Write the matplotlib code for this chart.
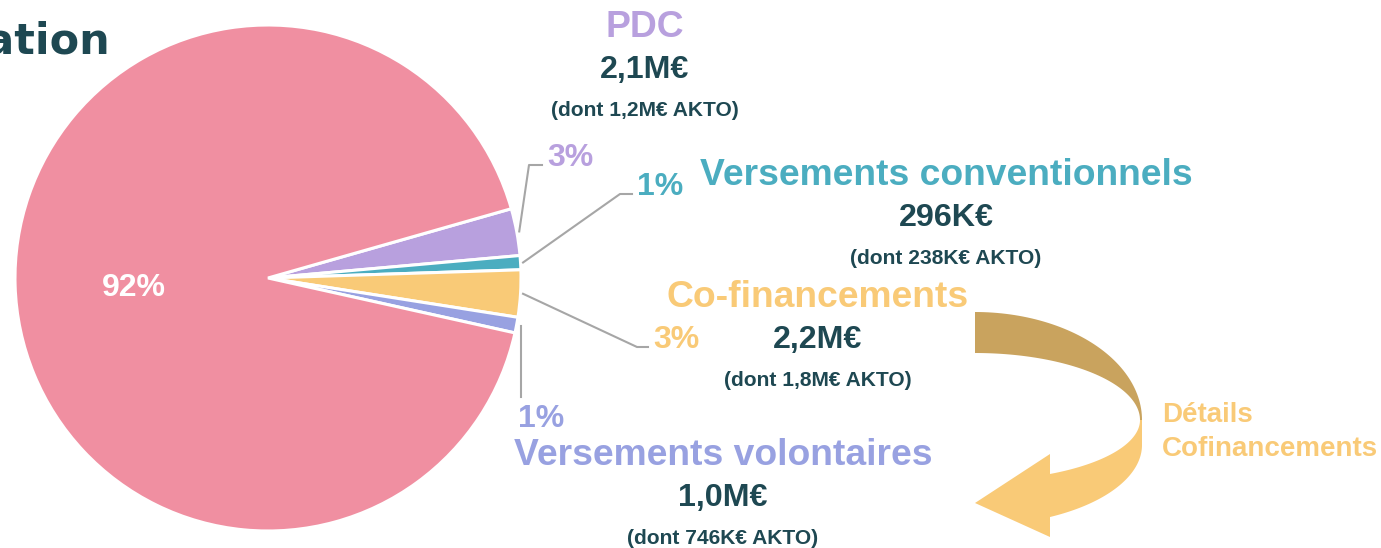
import numpy as np
import matplotlib
matplotlib.use("Agg")
import matplotlib.pyplot as plt
from matplotlib.patches import Polygon

# data
categories = ["Autres", "PDC", "Versements conventionnels", "Co-financements", "Versements volontaires"]
shares = [92.1, 3.0, 0.9, 3.0, 1.0]
amounts = ["", "2,1M€", "296K€", "2,2M€", "1,0M€"]
akto = ["", "(dont 1,2M€ AKTO)", "(dont 238K€ AKTO)", "(dont 1,8M€ AKTO)", "(dont 746K€ AKTO)"]
colors = ["#F08FA1", "#B8A0DE", "#4BADC0", "#F9CA77", "#98A1E1"]
dark = "#1E4852"

W, H = 1381, 548
plt.rcParams["font.family"] = ["Liberation Sans", "DejaVu Sans"]
fig = plt.figure(figsize=(W / 100, H / 100), dpi=100)

# pie axes: centre (268, 278) px, radius 253 px
cx, cy, R = 268, 278, 253
ax = fig.add_axes([(cx - R) / W, (H - cy - R) / H, 2 * R / W, 2 * R / H])
start = 15.9
# clockwise from start: PDC, VC, CoFin, VV, Autres
order = [1, 2, 3, 4, 0]
vals = [shares[i] for i in order]
cols = [colors[i] for i in order]
wedges, _ = ax.pie(vals, colors=cols, startangle=start, counterclock=False,
                   radius=1, wedgeprops=dict(edgecolor="white", linewidth=2.2))
ax.set_xlim(-1, 1)
ax.set_ylim(-1, 1)
ax.axis("off")

# overlay axes in pixel coordinates
ov = fig.add_axes([0, 0, 1, 1], facecolor="none")
ov.set_xlim(0, W)
ov.set_ylim(H, 0)
ov.axis("off")


def mid_px(w, r):
    a = np.deg2rad((w.theta1 + w.theta2) / 2)
    return cx + r * R * np.cos(a), cy - r * R * np.sin(a)


# big slice label
x, y = mid_px(wedges[4], 0.53)
ov.text(x, y + 14, f"{round(shares[0])}%", color="white", fontsize=23,
        fontweight="bold", ha="center", va="baseline")

# small slice labels with leader lines
elbows = {1: [(529, 165), (542, 165)], 2: [(620, 194), (632, 194)],
          3: [(637, 347), (648, 347)], 4: [(519, 397)]}
pct_pos = {1: (547, 166), 2: (637, 195), 3: (653, 348), 4: (518, 427)}
for k, i in enumerate(order[:4]):
    sx, sy = mid_px(wedges[k], 1.01)
    if i == 4:
        pts = [(sx + 2, sy), (sx + 2, elbows[i][0][1])]
    else:
        pts = [(sx, sy)] + elbows[i]
    ov.plot([p[0] for p in pts], [p[1] for p in pts], color="#A6A6A6", lw=1.5)
    px, py = pct_pos[i]
    ov.text(px, py, f"{round(shares[i])}%", color=colors[i], fontsize=23,
            fontweight="bold", ha="left", va="baseline")

# category blocks (centre x, title baseline)
blocks = {1: (645, 37), 2: (946, 185), 3: (818, 307), 4: (723, 465)}
for i, (bx, by) in blocks.items():
    ov.text(bx, by, categories[i], color=colors[i], fontsize=26.8,
            fontweight="bold", ha="center", va="baseline")
    ov.text(bx, by + 41, amounts[i], color=dark, fontsize=23.2,
            fontweight="bold", ha="center", va="baseline")
    ov.text(bx, by + 79, akto[i], color=dark, fontsize=15.1,
            fontweight="bold", ha="center", va="baseline")

# curved arrow pointing back to the co-financements
t = np.linspace(0, np.pi / 2, 60)
outer = np.c_[975 + 167 * np.cos(t[::-1]), 420 - 108 * np.sin(t[::-1])]
inner = np.c_[975 + 165 * np.cos(t), 420 - 67 * np.sin(t)]
brown = np.vstack([[[975, 312]], outer, inner, [[975, 353]]])
ov.add_patch(Polygon(brown, closed=True, facecolor="#C9A35E", edgecolor="none"))

t1 = np.linspace(0, np.arccos(75 / 165), 60)
t2 = np.linspace(np.arccos(75 / 167), 0, 60)
yin = np.c_[975 + 165 * np.cos(t1), 420 + 60.6 * np.sin(t1)]
yout = np.c_[975 + 167 * np.cos(t2), 445 + 80.6 * np.sin(t2)]
head = np.array([[1050, 454], [975, 503], [1050, 537]])
yellow = np.vstack([yin, head, yout, [[1142, 420]]])
ov.add_patch(Polygon(yellow, closed=True, facecolor="#F9CA77", edgecolor="none"))

ov.text(1162, 422, "Détails", color="#F9CA77", fontsize=20, fontweight="bold",
        ha="left", va="baseline")
ov.text(1162, 456, "Cofinancements", color="#F9CA77", fontsize=20, fontweight="bold",
        ha="left", va="baseline")

# title, cut off by the left edge in the original
fig.text(110 / W, 1 - 53 / H, "Formation", color=dark, fontsize=31,
         fontweight="bold", family="DejaVu Sans", ha="right", va="baseline")

fig.savefig("out.png", dpi=100)
